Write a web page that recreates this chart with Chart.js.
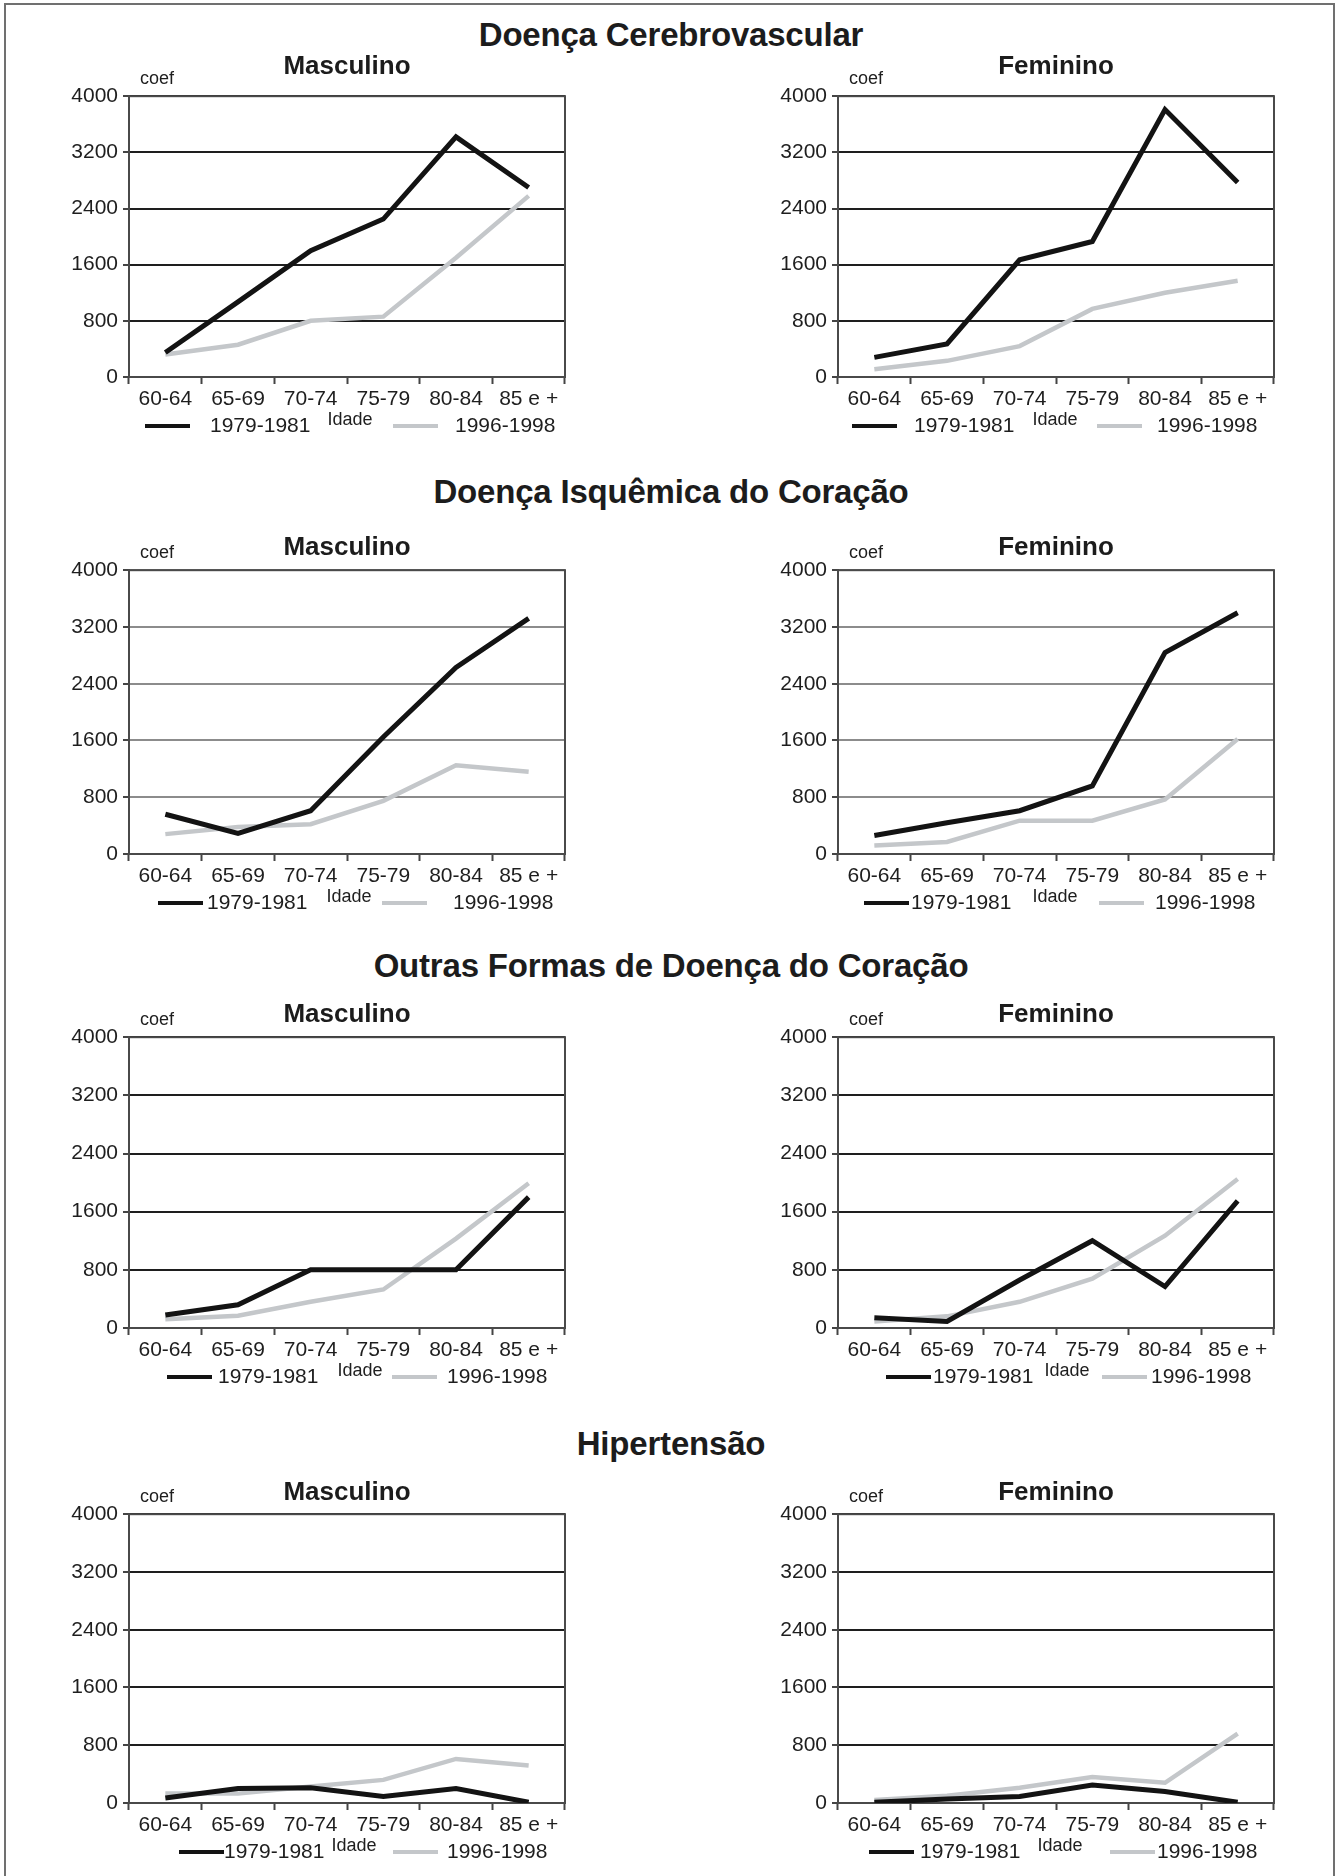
<!DOCTYPE html>
<html lang="pt">
<head>
<meta charset="utf-8">
<title>Coeficientes de mortalidade por idade</title>
<script src="https://cdn.jsdelivr.net/npm/chart.js@4.4.1/dist/chart.umd.min.js"></script>
<style>
  body { margin: 0; background: #fff; }
  #pagina { position: relative; width: 1339px; height: 1876px; overflow: hidden;
            font-family: "Liberation Sans", Arial, sans-serif; color: #1c1c1c; }
  .moldura { position: absolute; left: 4px; top: 3px; width: 1331px; height: 1880px;
             border: 2px solid #707070; box-sizing: border-box; }
  .secao { position: absolute; left: 0; width: 1342px; text-align: center; font-weight: bold;
           font-size: 33px; line-height: 33px; letter-spacing: -0.2px; }
  .painel { position: absolute; }
</style>
</head>
<body>
<div id="pagina">
  <div class="moldura"></div>
  <div class="secao" style="top:18px">Doença Cerebrovascular</div>
  <div class="secao" style="top:475px">Doença Isquêmica do Coração</div>
  <div class="secao" style="top:949px">Outras Formas de Doença do Coração</div>
  <div class="secao" style="top:1427px">Hipertensão</div>

  <div class="painel" style="left:69px;top:51px"><canvas id="cerebroMasc" width="556" height="392"></canvas></div>
  <div class="painel" style="left:778px;top:51px"><canvas id="cerebroFem" width="556" height="392"></canvas></div>
  <div class="painel" style="left:69px;top:532px"><canvas id="isqMasc" width="556" height="388"></canvas></div>
  <div class="painel" style="left:778px;top:532px"><canvas id="isqFem" width="556" height="388"></canvas></div>
  <div class="painel" style="left:69px;top:999px"><canvas id="outrasMasc" width="556" height="395"></canvas></div>
  <div class="painel" style="left:778px;top:999px"><canvas id="outrasFem" width="556" height="395"></canvas></div>
  <div class="painel" style="left:69px;top:1477px"><canvas id="hipMasc" width="556" height="392"></canvas></div>
  <div class="painel" style="left:778px;top:1477px"><canvas id="hipFem" width="556" height="392"></canvas></div>
</div>

<script>
// faixas etárias e períodos
const faixas = ['60-64', '65-69', '70-74', '75-79', '80-84', '85 e +'];
const periodos = ['1979-1981', '1996-1998'];
const marcasY = [0, 800, 1600, 2400, 3200, 4000];

// coeficientes por 100 mil habitantes
const cerebroMasc79 = [350, 1070, 1800, 2250, 3420, 2700];
const cerebroMasc96 = [320, 460, 800, 860, 1700, 2580];
const cerebroFem79 = [280, 470, 1670, 1930, 3810, 2770];
const cerebroFem96 = [110, 230, 440, 970, 1200, 1370];

const isqMasc79 = [560, 290, 610, 1650, 2630, 3320];
const isqMasc96 = [280, 380, 420, 750, 1250, 1160];
const isqFem79 = [260, 440, 610, 960, 2840, 3400];
const isqFem96 = [120, 170, 470, 470, 770, 1620];

const outrasMasc79 = [180, 320, 800, 800, 800, 1800];
const outrasMasc96 = [120, 170, 360, 530, 1230, 1990];
const outrasFem79 = [140, 90, 660, 1200, 570, 1750];
const outrasFem96 = [90, 160, 360, 680, 1270, 2050];

const hipMasc79 = [70, 200, 210, 90, 200, 10];
const hipMasc96 = [130, 130, 230, 320, 610, 520];
const hipFem79 = [10, 55, 90, 250, 160, 10];
const hipFem96 = [40, 100, 210, 360, 280, 960];

Chart.defaults.font.family = '"Liberation Sans", Arial, sans-serif';
Chart.defaults.color = '#1e1e1e';

const COR_79 = '#131313';
const COR_96 = '#c4c7ca';

// contorno da área de plotagem
const contorno = {
  id: 'contorno',
  beforeDatasetsDraw(chart) {
    const { ctx, chartArea: a } = chart;
    ctx.save();
    ctx.strokeStyle = '#4a4a4a';
    ctx.lineWidth = 2;
    ctx.strokeRect(a.left, a.top, a.right - a.left, a.bottom - a.top);
    ctx.restore();
  }
};

// "coef", "Idade" e a legenda na linha de baixo
const textosExtras = {
  id: 'textosExtras',
  afterDraw(chart, args, opts) {
    const { ctx, chartArea: a } = chart;
    ctx.save();
    ctx.fillStyle = '#1e1e1e';
    ctx.textBaseline = 'middle';
    ctx.font = '18px "Liberation Sans", Arial, sans-serif';
    ctx.textAlign = 'left';
    ctx.fillText('coef', a.left + 11, a.top - 17);
    ctx.textAlign = 'center';
    ctx.fillText('Idade', a.left + opts.idadeX, a.bottom + 43);

    ctx.font = '21px "Liberation Sans", Arial, sans-serif';
    ctx.textAlign = 'left';
    const y = a.bottom + 49;
    chart.data.datasets.forEach((ds, i) => {
      const x0 = a.left + opts.legenda[i * 2];
      ctx.strokeStyle = ds.borderColor;
      ctx.lineWidth = 4;
      ctx.beginPath();
      ctx.moveTo(x0, y);
      ctx.lineTo(x0 + 45, y);
      ctx.stroke();
      ctx.fillText(ds.label, a.left + opts.legenda[i * 2 + 1], y);
    });
    ctx.restore();
  }
};

function grafico(id, titulo, serie79, serie96, opc) {
  return new Chart(document.getElementById(id), {
    type: 'line',
    data: {
      labels: faixas,
      datasets: [
        { label: periodos[0], data: serie79, borderColor: COR_79, backgroundColor: COR_79,
          borderWidth: 5, pointRadius: 0, tension: 0 },
        { label: periodos[1], data: serie96, borderColor: COR_96, backgroundColor: COR_96,
          borderWidth: 4.5, pointRadius: 0, tension: 0 }
      ]
    },
    options: {
      responsive: false,
      animation: false,
      layout: { padding: { top: 0, left: 0, right: 60, bottom: 30 } },
      plugins: {
        legend: { display: false },
        tooltip: { enabled: false },
        // centrado sobre a área de plotagem
        title: { display: true, fullSize: false, text: titulo, color: '#1c1c1c',
                 font: { size: 26, weight: 'bold' }, padding: { top: 0, bottom: opc.gap } },
        textosExtras: { legenda: opc.legenda, idadeX: opc.idadeX }
      },
      scales: {
        x: {
          offset: true,
          grid: { offset: true, drawOnChartArea: false, drawTicks: true, tickLength: 7,
                  tickWidth: 2, tickColor: '#444' },
          border: { color: '#444', width: 2 },
          ticks: { font: { size: 21 }, padding: 3, maxRotation: 0, autoSkip: false },
          afterFit(s) { s.height = 36; }
        },
        y: {
          min: 0, max: 4000,
          afterBuildTicks(s) { s.ticks = marcasY.map(v => ({ value: v })); },
          ticks: { font: { size: 21 }, padding: 5, callback: v => String(v) },
          grid: { color: opc.grade, lineWidth: 2, tickLength: 6, tickColor: '#444', tickWidth: 2 },
          border: { color: '#444', width: 2 },
          afterFit(s) { s.width = 60; }
        }
      }
    },
    plugins: [contorno, textosExtras]
  });
}

const escura = '#1e1e1e';
const clara = '#8c8c8c';

// título do painel (espaço abaixo), cor da grade, posição da legenda e de "Idade"
grafico('cerebroMasc', 'Masculino', cerebroMasc79, cerebroMasc96,
  { gap: 14, grade: escura, legenda: [16, 81, 264, 326], idadeX: 221 });
grafico('cerebroFem', 'Feminino', cerebroFem79, cerebroFem96,
  { gap: 14, grade: escura, legenda: [14, 76, 259, 319], idadeX: 217 });
grafico('isqMasc', 'Masculino', isqMasc79, isqMasc96,
  { gap: 7, grade: clara, legenda: [29, 78, 253, 324], idadeX: 220 });
grafico('isqFem', 'Feminino', isqFem79, isqFem96,
  { gap: 7, grade: clara, legenda: [26, 73, 261, 317], idadeX: 217 });
grafico('outrasMasc', 'Masculino', outrasMasc79, outrasMasc96,
  { gap: 7, grade: escura, legenda: [38, 89, 263, 318], idadeX: 231 });
grafico('outrasFem', 'Feminino', outrasFem79, outrasFem96,
  { gap: 7, grade: escura, legenda: [48, 95, 264, 313], idadeX: 229 });
grafico('hipMasc', 'Masculino', hipMasc79, hipMasc96,
  { gap: 6, grade: escura, legenda: [50, 95, 264, 318], idadeX: 225 });
grafico('hipFem', 'Feminino', hipFem79, hipFem96,
  { gap: 6, grade: escura, legenda: [31, 82, 272, 319], idadeX: 222 });
</script>
</body>
</html>
